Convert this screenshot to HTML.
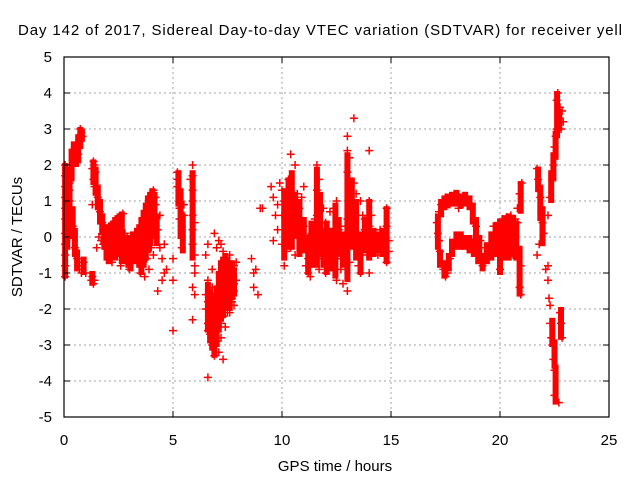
<!DOCTYPE html>
<html><head><meta charset="utf-8"><style>
html,body{margin:0;padding:0;background:#fff;}
svg{display:block;font-family:"Liberation Sans",sans-serif;}
</style></head><body>
<svg id="chart" width="640" height="480" viewBox="0 0 640 480" xmlns="http://www.w3.org/2000/svg">
<rect x="0" y="0" width="640" height="480" fill="#fff"/>
<text x="18" y="35" font-size="15" textLength="604" lengthAdjust="spacing" fill="#000">Day 142 of 2017, Sidereal Day-to-day VTEC variation (SDTVAR) for receiver yell</text>
<g id="grid"></g>
<g id="points"></g>
<g id="axes"></g>
<text x="335" y="471" font-size="15" text-anchor="middle">GPS time / hours</text>
<text transform="translate(22,237) rotate(-90)" font-size="15" text-anchor="middle">SDTVAR / TECUs</text>
</svg>
<script>
const xTicks = [0,5,10,15,20,25];
const yTicks = [-5,-4,-3,-2,-1,0,1,2,3,4,5];
const xTickLabels = ["0","5","10","15","20","25"];
const yTickLabels = ["-5","-4","-3","-2","-1","0","1","2","3","4","5"];

const times1 = [0.05,0.05,0.05,0.05,0.05,0.05,0.05,0.05,0.05,0.05,0.05,0.15,0.15,0.15,0.15,0.15,0.15,0.15,0.15,0.25,0.25,0.25,0.25,0.3,0.4,0.45,0.5,0.55,0.6,0.65,0.7,0.75,0.8,0.85,0.4,0.5,0.6,0.7,0.45,0.55,0.65,0.3,0.35,0.4,0.45,0.5,0.55,0.6,0.65,0.7,0.8,0.9,1.0,0.25,0.2,0.1,0.2];
const values1 = [-1.1,-0.8,-0.5,-0.2,0.1,0.5,0.8,1.1,1.4,1.7,2.0,1.8,1.6,1.3,1.0,0.7,0.4,0.6,0.9,1.3,1.0,0.8,1.5,1.6,2.0,2.3,2.5,2.4,2.3,2.6,2.8,3.0,2.9,2.8,2.2,2.1,2.2,2.5,2.4,2.6,2.3,0.8,0.5,0.3,0.0,-0.3,-0.4,-0.6,-0.8,-0.9,-1.0,-0.7,-1.0,0.0,1.2,1.9,0.3];

const times2 = [1.3,1.35,1.4,1.45,1.35,1.4,1.5,1.55,1.6,1.65,1.7,1.75,1.8,1.3,1.25,1.35,1.4,1.3,1.5,1.6,1.7,1.8];
const values2 = [1.9,2.1,2.0,1.8,1.6,1.4,1.3,1.1,0.9,0.7,0.5,0.4,0.2,0.9,-1.2,-1.3,-1.2,-1.1,-0.3,0.0,-0.1,-0.2];

const times3 = [1.9,2.0,2.1,2.2,2.3,2.4,2.5,2.6,2.7,1.9,2.0,2.1,2.2,2.3,2.4,2.5,2.6,2.7,2.8,2.9,3.0,3.1,3.2,3.3,3.4,3.5,2.8,2.9,3.0,3.1,3.2,3.3,3.4,3.5,2.0,2.2,2.4,2.6,2.8,3.0,3.2,3.4,2.1,2.5,2.9,3.3,3.6,3.7,3.8,3.9,4.0,4.1,4.2,3.6,3.7,3.8,3.9,4.0,4.1,4.2,3.6,3.8,4.0,4.2,3.5,3.7,3.9,4.1,4.3,4.4,4.5,4.6,4.3,4.5,4.7,4.4,4.6];
const values3 = [0.0,0.1,0.3,0.35,0.4,0.5,0.55,0.6,0.65,-0.3,-0.2,-0.3,-0.2,-0.4,-0.3,-0.2,-0.3,-0.2,-0.4,-0.5,-0.6,-0.5,-0.3,-0.2,-0.3,-0.1,0.1,0.0,-0.1,-0.2,0.0,-0.1,0.1,0.2,-0.6,-0.7,-0.5,-0.8,-0.4,-0.9,-0.6,-0.7,0.2,0.3,0.0,0.0,0.4,0.6,0.8,1.0,1.2,1.3,1.1,-0.3,-0.2,0.0,0.2,0.5,0.7,0.9,-0.8,-0.6,-0.3,0.0,-1.0,-1.1,-0.9,-0.5,0.2,-0.3,-0.6,-1.0,-1.5,-1.2,-0.9,0.6,-0.2];

const times4 = [5.0,5.0,5.0,5.2,5.2,5.3,5.3,5.3,5.4,5.4,5.4,5.5,5.5,5.2,5.3,5.4,5.9,5.9,5.9,5.9,5.9,5.9,5.9,6.0,6.0,6.0,6.0,5.8,6.0,5.9,5.9];
const values4 = [-0.6,-1.2,-2.6,1.8,1.6,1.2,0.9,0.5,0.2,0.0,-0.3,0.6,0.9,1.4,0.8,0.3,2.0,1.7,1.3,1.0,0.6,0.2,-0.2,-0.5,-0.8,-1.0,0.4,1.6,-1.6,-2.3,-1.4];

const times5 = [6.5,6.6,6.7,6.8,6.9,7.0,7.1,7.2,7.3,7.4,7.5,7.6,7.7,7.8,7.9,6.5,6.6,6.7,6.8,6.9,7.0,7.1,7.2,7.3,7.4,7.5,7.6,7.7,7.8,7.9,6.6,6.8,7.0,7.2,7.4,7.6,7.8,6.7,6.9,7.1,7.3,7.5,7.7,6.6,6.8,7.0,7.2,7.4,7.6,7.8,6.6,7.0,7.3,7.6,6.9,7.1,6.5,7.2,7.5,6.6];
const values5 = [-1.6,-1.8,-2.0,-2.2,-2.6,-2.9,-3.2,-2.8,-2.2,-1.8,-1.5,-1.2,-1.0,-0.8,-1.2,-2.0,-2.4,-2.7,-3.0,-3.3,-2.5,-2.0,-1.6,-1.3,-1.0,-0.8,-1.4,-1.8,-1.5,-0.7,-1.2,-1.4,-1.6,-1.0,-0.6,-0.5,-1.9,-2.2,-1.9,-1.4,-0.4,-2.1,-1.7,-2.6,-0.9,-1.7,-2.4,-2.5,-1.1,-1.3,-0.2,-0.3,-3.4,-2.1,0.1,-0.1,-0.5,-0.2,-1.8,-3.9];

const times6 = [8.6,8.7,8.7,8.8,8.9,9.0,9.1,9.5,9.6,9.7,9.8,9.9,9.6,9.8];
const values6 = [-0.6,-1.0,-1.4,-0.9,-1.6,0.8,0.8,1.4,1.1,0.6,0.2,1.5,-0.1,0.9];

const times7 = [10.0,10.0,10.0,10.1,10.1,10.1,10.2,10.2,10.3,10.4,10.4,10.4,10.4,10.5,10.5,10.6,10.6,10.7,10.8,10.9,11.0,11.1,11.2,11.2,11.2,11.3,11.4,11.5,11.6,11.6,11.6,11.6,11.7,11.7,11.8,11.9,12.0,12.0,12.1,12.2,12.3,12.4,12.5,12.5,12.5,12.6,12.7,12.8,12.9,13.0,13.0,13.0,13.0,13.1,13.1,13.2,13.3,13.3,13.4,13.5,13.6,13.6,13.7,13.8,13.9,14.0,14.0,14.0,14.1,14.2,14.3,14.4,14.5,14.6,14.7,14.8,14.8,14.8,14.9,14.9,13.1,13.3,13.0,13.6,14.0,12.8,11.5,10.3,10.6,11.0,11.9,12.2,12.7,13.4,13.8,14.3,14.6,10.2,10.9,11.3,12.4,13.2];
const values7 = [1.3,0.6,-0.2,1.0,0.2,-0.8,0.5,-0.4,1.6,2.3,1.5,0.6,-0.3,1.0,0.0,0.5,-0.5,1.2,0.8,-0.2,0.3,-0.8,0.0,-0.6,-1.0,-0.4,-0.2,0.5,2.0,1.3,0.6,-0.6,1.6,-0.9,0.2,-0.6,-1.0,0.4,-0.3,-0.8,0.1,-0.5,1.0,-0.3,-1.2,0.2,-0.9,-0.4,0.3,2.8,1.8,0.5,-1.5,1.2,-0.7,0.6,1.5,0.9,-0.2,-0.8,0.0,-1.0,0.6,0.2,-0.5,1.0,0.3,-1.0,0.6,-0.3,0.0,-0.5,0.2,-0.4,0.0,-0.7,0.8,0.3,-0.1,-0.4,2.2,3.3,2.4,1.0,2.4,-1.3,-0.7,0.9,2.0,1.4,0.8,0.7,-0.6,1.2,0.5,-0.2,0.1,0.0,1.1,-1.1,0.8,-0.2];

const times8 = [17.1,17.2,17.3,17.4,17.5,17.7,17.9,18.0,18.2,18.4,18.5,18.7,18.8,18.9,19.0,19.1,19.2,17.2,17.25,17.3,17.4,17.5,17.6,17.7,17.85,18.0,18.2,18.3,18.5,18.7,18.8,19.0,19.2,19.4,19.6,19.7,19.9,20.1,20.3,20.5,20.7,20.8,20.8,20.6,20.3,20.1,19.9,20.0,20.9,20.95,20.95,20.9,21.0,20.8,17.15,17.6,18.1,18.6,19.3,19.5,20.2,20.6,19.8];
const values8 = [0.4,0.7,0.9,1.0,1.1,1.1,1.2,1.2,1.0,1.1,1.1,0.9,0.5,0.3,0.0,-0.1,-0.6,-0.1,-0.4,-0.7,-0.9,-1.1,-0.9,-0.6,-0.2,-0.1,0.0,-0.1,-0.1,-0.2,-0.3,-0.5,-0.8,-0.5,-0.3,0.3,0.4,0.5,0.55,0.6,0.5,0.4,-0.3,-0.4,-0.45,-0.4,-0.4,-0.9,-1.4,-1.6,-0.8,1.2,1.5,0.8,0.1,-1.0,0.8,-0.2,-0.3,-0.4,-0.3,-0.5,0.0];

const times9 = [21.7,21.75,21.8,21.85,21.9,21.95,22.0,21.8,21.7,22.2,22.3,22.4,22.45,22.5,22.55,22.6,22.6,22.65,22.7,22.8,22.9,22.85,22.75,22.2,22.2,22.25,22.3,22.35,22.4,22.45,22.5,22.5,22.75,22.8,22.85,22.7,22.3,22.1];
const values9 = [1.9,1.6,1.3,1.1,0.7,0.4,0.1,-0.2,-0.5,0.6,1.1,1.6,2.0,2.5,2.8,3.0,3.8,4.0,3.3,3.0,3.2,3.5,3.6,-0.8,-1.2,-1.7,-2.4,-2.8,-3.0,-3.4,-3.7,-4.4,-2.1,-2.4,-2.8,-4.6,-1.9,-0.9];

// dense clusters of overlapping markers: time, lowest value, highest value
const bandTimes = [0.05,0.15,0.25,0.35,0.45,0.55,0.65,0.75,0.82,0.4,0.5,0.6,0.9,
 1.35,1.45,1.55,1.65,1.75,1.85,1.3,
 1.95,2.05,2.15,2.25,2.35,2.45,2.55,2.65,2.75,2.85,2.95,3.05,3.15,3.25,3.35,3.45,3.55,3.65,3.75,3.85,3.95,4.05,4.15,4.25,
 5.25,5.35,5.45,5.9,
 6.6,6.7,6.8,6.9,7.0,7.1,7.2,7.3,7.4,7.5,7.6,7.7,7.8,
 10.1,10.3,10.45,10.6,10.8,11.0,11.2,11.35,11.6,11.75,11.9,12.05,12.25,12.45,12.6,12.8,13.0,13.2,13.4,13.6,13.8,14.0,14.2,14.4,14.6,14.8,
 17.15,17.3,17.45,17.6,17.8,18.0,18.2,18.4,18.6,18.75,18.9,19.05,
 17.25,17.45,17.65,17.8,18.0,18.2,18.4,18.6,18.8,19.0,19.2,19.4,19.6,19.8,20.0,20.2,20.4,20.6,20.75,20.9,20.95,
 21.75,21.85,21.95,22.35,22.45,22.55,22.62,22.72,22.4,22.5,22.55,22.8];
const bandLow = [-1.1,-0.3,0.4,1.6,2.0,2.0,2.1,2.5,2.7,0.0,-0.5,-0.9,-1.0,
 1.5,1.2,0.8,0.4,0.1,-0.3,-1.3,
 -0.6,-0.7,-0.6,-0.5,-0.6,-0.4,-0.5,-0.7,-0.6,-0.7,-0.8,-0.9,-0.6,-0.7,-0.6,-0.8,-1.0,-0.8,-0.6,-0.4,-0.2,0.0,0.3,-0.2,
 0.9,0.0,-0.4,-0.6,
 -2.6,-2.9,-3.1,-3.3,-3.0,-2.6,-2.3,-2.2,-2.0,-1.8,-2.0,-1.7,-1.6,
 -0.6,-0.3,-0.3,0.0,-0.5,-0.4,-1.0,-0.8,-0.8,-0.5,-0.8,-1.0,-0.9,-1.1,-0.5,-0.8,-1.2,-0.3,-0.6,-1.0,-0.4,-0.6,-0.5,-0.4,-0.5,-0.7,
 -0.3,0.6,0.8,0.85,0.9,0.9,0.85,0.9,0.8,0.4,0.0,-0.4,
 -0.8,-1.1,-0.9,-0.5,-0.3,-0.3,-0.3,-0.4,-0.5,-0.7,-0.9,-0.7,-0.6,-0.5,-1.0,-0.6,-0.6,-0.5,-0.6,-1.6,0.7,
 1.3,0.5,-0.2,1.0,1.6,2.2,2.8,3.0,-3.0,-3.6,-4.6,-2.8];
const bandHigh = [2.0,1.9,1.7,2.4,2.6,2.6,2.8,3.0,2.95,0.8,0.2,-0.4,-0.6,
 2.1,1.9,1.4,1.0,0.6,0.3,-1.0,
 0.1,0.3,0.35,0.4,0.5,0.55,0.6,0.65,0.0,-0.1,-0.2,0.0,0.1,0.0,0.2,0.3,0.5,0.7,0.9,1.1,1.2,1.3,1.2,0.6,
 1.8,1.3,0.6,1.8,
 -1.3,-1.5,-1.6,-1.6,-1.4,-1.0,-0.7,-0.6,-0.5,-0.6,-0.8,-0.7,-0.9,
 1.3,1.6,1.8,1.2,1.0,0.5,0.0,0.4,1.9,1.2,0.2,0.4,0.2,0.9,0.5,0.1,2.3,1.6,1.0,0.1,0.5,1.0,0.2,0.1,0.2,0.8,
 0.6,1.0,1.1,1.15,1.2,1.25,1.15,1.2,1.1,0.9,0.5,0.0,
 -0.4,-0.7,-0.5,-0.1,0.1,0.1,0.0,0.0,-0.1,-0.2,-0.5,-0.2,0.1,0.35,0.45,0.55,0.6,0.55,0.4,-0.3,1.5,
 1.9,1.4,0.8,1.8,2.3,2.9,4.0,3.5,-2.3,-2.9,-3.6,-2.0];

const timesAll = [times1,times2,times3,times4,times5,times6,times7,times8,times9];
const valuesAll = [values1,values2,values3,values4,values5,values6,values7,values8,values9];

const X0=64, X1=609, Y0=57, Y1=417;
function xScale(t){ return X0 + (t-0)/(25-0)*(X1-X0); }
function yScale(v){ return Y1 - (v-(-5))/(5-(-5))*(Y1-Y0); }
const NS='http://www.w3.org/2000/svg';
function mk(tag, attrs){ const e=document.createElementNS(NS,tag); for(const k in attrs) e.setAttribute(k, attrs[k]); return e; }

const grid=document.getElementById('grid');
const axes=document.getElementById('axes');
xTicks.forEach((t,i)=>{
  const x=xScale(t);
  if(i>0 && i<xTicks.length-1){
    const g=mk('line',{x1:x,y1:Y0,x2:x,y2:Y1,stroke:'#a0a0a0','stroke-dasharray':'2,3','stroke-width':1});
    
    
    grid.appendChild(g);
  }
  const tk=mk('path',{d:`M${x},${Y1}v-6M${x},${Y0}v6`,stroke:'#000','stroke-width':1});
  
  
  axes.appendChild(tk);
  const lb=mk('text',{x:x,y:445,'font-size':15,'text-anchor':'middle'});
  lb.textContent=xTickLabels[i];
  
  
  axes.appendChild(lb);
});
yTicks.forEach((v,i)=>{
  const y=yScale(v);
  if(i>0 && i<yTicks.length-1){
    const g=mk('line',{x1:X0,y1:y,x2:X1,y2:y,stroke:'#a0a0a0','stroke-dasharray':'2,3','stroke-width':1});
    
    
    grid.appendChild(g);
  }
  const tk=mk('path',{d:`M${X0},${y}h6M${X1},${y}h-6`,stroke:'#000','stroke-width':1});
  
  
  axes.appendChild(tk);
  const lb=mk('text',{x:52,y:y+5,'font-size':15,'text-anchor':'end'});
  lb.textContent=yTickLabels[i];
  
  
  axes.appendChild(lb);
});
const border=mk('rect',{x:X0,y:Y0,width:X1-X0,height:Y1-Y0,fill:'none',stroke:'#000','stroke-width':1.2});


axes.appendChild(border);

const pts=document.getElementById('points');
bandTimes.forEach((t,i)=>{
  const x=xScale(t), yTop=yScale(bandHigh[i]), yBot=yScale(bandLow[i]);
  const r=mk('rect',{x:(x-3).toFixed(1),y:(yTop-2).toFixed(1),width:6,height:(yBot-yTop+4).toFixed(1),fill:'#ff0000'});
  
  
  pts.appendChild(r);
});
let d='';
timesAll.forEach((ts,si)=>{
  const vs=valuesAll[si];
  ts.forEach((t,j)=>{
    const x=xScale(t), y=yScale(vs[j]);
    d+=`M${(x-4).toFixed(1)},${y.toFixed(1)}h8M${x.toFixed(1)},${(y-4).toFixed(1)}v8`;
  });
});
const p=mk('path',{d:d,stroke:'#ff0000','stroke-width':1.5,fill:'none'});


pts.appendChild(p);
</script>
</body></html>
